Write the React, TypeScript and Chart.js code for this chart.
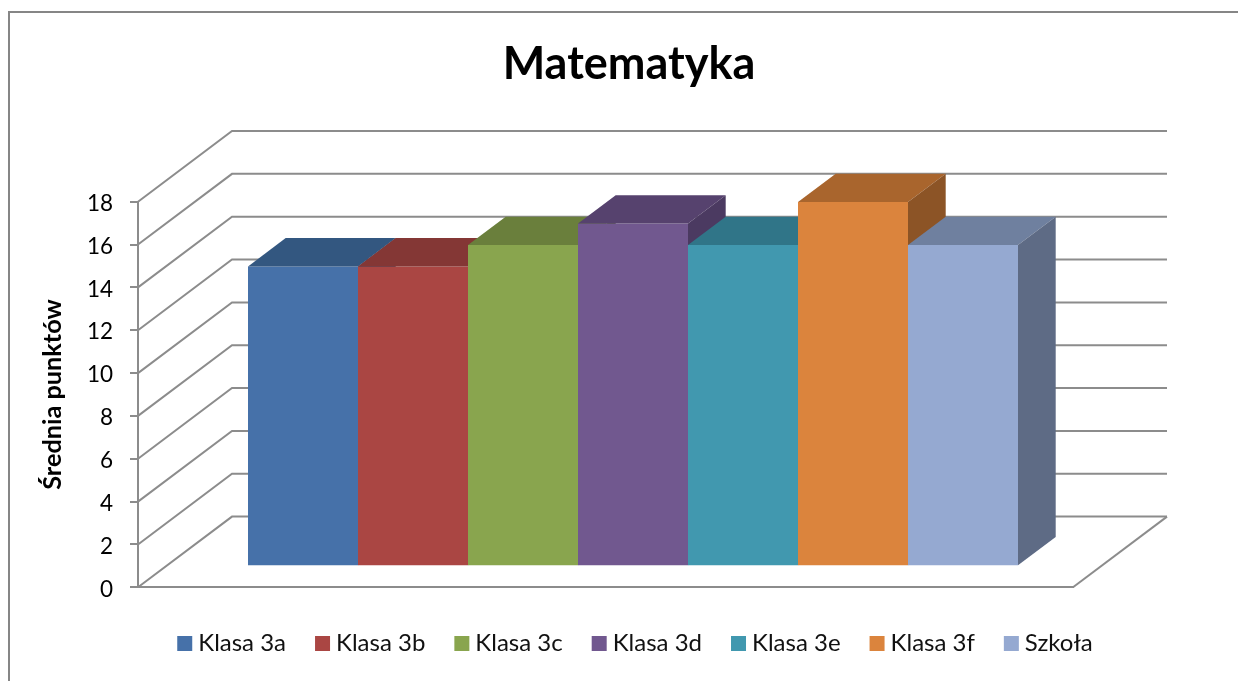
import React, { useEffect, useRef } from "react";
import { Chart, registerables } from "chart.js";

Chart.register(...registerables);

const categories = [""];
const seriesNames = ["Klasa 3a", "Klasa 3b", "Klasa 3c", "Klasa 3d", "Klasa 3e", "Klasa 3f", "Szkoła"];
const seriesValues = [14, 14, 15, 16, 15, 17, 15];
const frontColors = ["#4671A9", "#AA4643", "#89A54E", "#71588F", "#4198AF", "#DB843D", "#95A9D1"];
const topColors = ["#335780", "#843735", "#6A7F3C", "#56426E", "#307588", "#A9652D", "#6F809F"];
const sideColors = ["#2C4A6E", "#6F2E2C", "#5A6B33", "#4B3A61", "#285F6F", "#8C5426", "#5E6B85"];
const valueTicks = [0, 2, 4, 6, 8, 10, 12, 14, 16, 18];

const GRAY = "#8C8C8C";
const WALL = { dx: 94, dy: -70.7 };
const BAR_SHIFT = { dx: 27.5, dy: -21 };
const BAR_DEPTH = { dx: 37.7, dy: -28.3 };

const poly = (ctx: CanvasRenderingContext2D, pts: number[][], color: string) => {
  ctx.beginPath();
  pts.forEach(([x, y], i) => (i ? ctx.lineTo(x, y) : ctx.moveTo(x, y)));
  ctx.closePath();
  ctx.fillStyle = color;
  ctx.fill();
};

const box3d = {
  id: "box3d",
  afterLayout(chart: any) {
    chart.titleBlock.left += 10;
    chart.titleBlock.right += 10;
    chart.legend.left += 19;
    chart.legend.right += 19;
    chart.legend.top -= 15.5;
    chart.legend.bottom -= 15.5;
  },
  beforeDraw(chart: any) {
    const ctx = chart.ctx;
    ctx.save();
    ctx.strokeStyle = "#868686";
    ctx.lineWidth = 2;
    ctx.beginPath();
    ctx.moveTo(9, chart.height);
    ctx.lineTo(9, 12);
    ctx.lineTo(chart.width, 12);
    ctx.stroke();
    ctx.restore();
  },
  beforeDatasetsDraw(chart: any) {
    const ctx = chart.ctx;
    const { left, right } = chart.chartArea;
    const y = chart.scales.y;
    ctx.save();
    ctx.strokeStyle = GRAY;
    ctx.lineWidth = 2;
    valueTicks.forEach((v) => {
      const py = y.getPixelForValue(v);
      ctx.beginPath();
      ctx.moveTo(left, py);
      ctx.lineTo(left + WALL.dx, py + WALL.dy);
      ctx.lineTo(right + WALL.dx, py + WALL.dy);
      ctx.stroke();
    });
    const base = y.getPixelForValue(0);
    ctx.beginPath();
    ctx.moveTo(right, base);
    ctx.lineTo(right + WALL.dx, base + WALL.dy);
    ctx.stroke();
    ctx.restore();
  },
  // Chart.js paints datasets last-to-first; the boxes must be painted left-to-right.
  beforeDatasetDraw() {
    return false;
  },
  afterDatasetsDraw(chart: any) {
    const ctx = chart.ctx;
    ctx.save();
    ctx.translate(BAR_SHIFT.dx, BAR_SHIFT.dy);
    seriesNames.forEach((_, i) => {
      const bar = chart.getDatasetMeta(i).data[0];
      bar.draw(ctx);
      const { x, y, base, width } = bar.getProps(["x", "y", "base", "width"], true);
      const l = x - width / 2;
      const r = x + width / 2;
      const { dx, dy } = BAR_DEPTH;
      poly(ctx, [[l, y], [l + dx, y + dy], [r + dx, y + dy], [r, y]], topColors[i]);
      poly(ctx, [[r, y], [r + dx, y + dy], [r + dx, base + dy], [r, base]], sideColors[i]);
    });
    ctx.restore();
  },
};

export default function App() {
  const ref = useRef<HTMLCanvasElement>(null);
  useEffect(() => {
    const chart = new Chart(ref.current as HTMLCanvasElement, {
      type: "bar",
      data: {
        labels: categories,
        datasets: seriesNames.map((name, i) => ({
          label: name,
          data: [seriesValues[i]],
          backgroundColor: frontColors[i],
          borderWidth: 0,
          categoryPercentage: 770 / 935,
          barPercentage: 1,
        })),
      } as any,
      plugins: [box3d],
      options: {
        animation: false,
        responsive: false,
        devicePixelRatio: 1,
        layout: { padding: 0 },
        plugins: {
          tooltip: { enabled: false },
          title: {
            display: true,
            text: "Matematyka",
            color: "#000",
            font: { family: "Lato", size: 45, weight: "bold" },
            padding: { top: 37, bottom: 110.7 },
          },
          legend: {
            position: "bottom",
            labels: {
              color: "#111",
              font: { family: "Lato", size: 24 },
              usePointStyle: true,
              pointStyle: "rect",
              boxWidth: 3,
              boxHeight: 15,
              padding: 35,
            },
          },
        },
        scales: {
          x: {
            grid: { display: false },
            border: { color: GRAY, width: 2 },
            ticks: { display: false },
            afterFit: (s: any) => {
              s.height = 24.7;
            },
          },
          y: {
            min: 0,
            max: 18,
            afterFit: (s: any) => {
              s.width = 138;
            },
            ticks: {
              stepSize: 2,
              color: "#000",
              padding: 17,
              labelOffset: 2,
              font: { family: "Lato", size: 22.5 },
            },
            grid: { drawOnChartArea: false, tickLength: 8, color: GRAY, lineWidth: 2 },
            border: { color: GRAY, width: 2 },
            title: {
              display: true,
              text: "Średnia punktów",
              color: "#000",
              font: { family: "Lato", size: 25.3, weight: "bold" },
              padding: { top: 37.5, bottom: 0 },
            },
          },
          yRight: {
            position: "right",
            ticks: { display: false },
            grid: { display: false },
            border: { display: false },
            afterFit: (s: any) => {
              s.width = 165;
            },
          },
        },
      } as any,
    });
    return () => chart.destroy();
  }, []);
  return (
    <canvas
      ref={ref}
      width={1238}
      height={681}
      style={{ position: "fixed", left: 0, top: 0, width: 1238, height: 681 }}
    />
  );
}
